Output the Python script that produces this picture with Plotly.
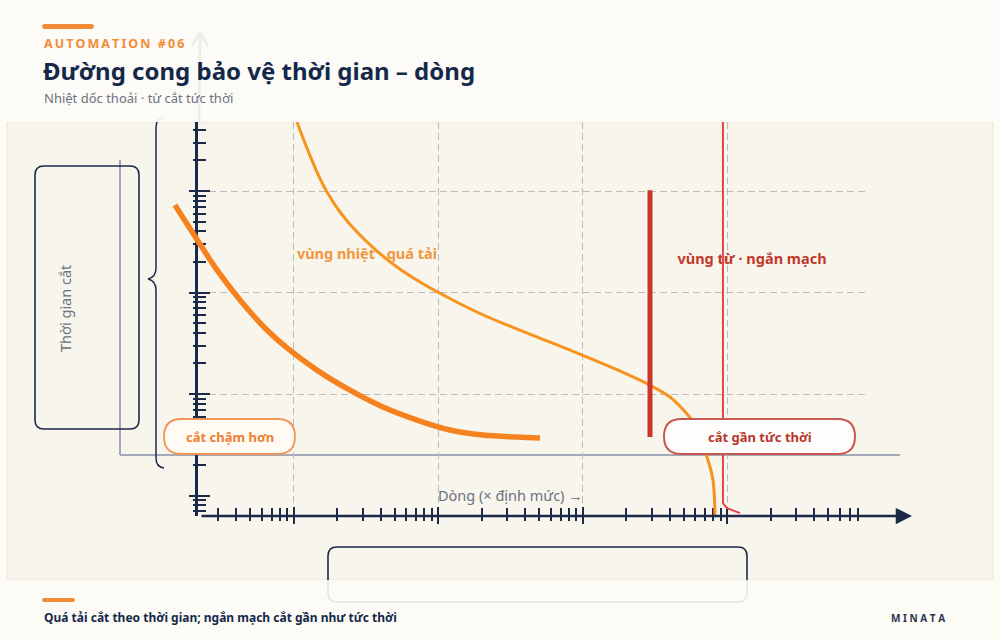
import plotly.graph_objects as go

# Time-current curves (x = multiple of rated current, y = trip time in s)
trip_current = [1.049, 1.23, 1.443, 1.692, 2.081, 2.729, 3.753, 5.163, 7.447, 11.45, 19.38, 32.78, 56.36,
                95.33, 171.9, 290.8, 400.0, 492.1, 577.0, 645.2, 721.4, 793.6, 819.3]
trip_time = [4785, 2652, 1539, 977.5, 621.2, 394.7, 256.4, 178.3, 126.9, 90.3, 62.1, 45.3, 33.3,
             24.7, 17.36, 12.21, 9.34, 7.04, 5.30, 3.52, 2.39, 1.42, 0.628]

slow_current = [0.150, 0.182, 0.213, 0.293, 0.423, 0.650, 0.895, 1.44, 2.44, 4.13, 7.10, 12.0, 20.3, 34.9, 50.4]
slow_time = [728, 473, 333, 167, 84.4, 42.7, 28.4, 17.2, 10.9, 7.44, 5.54, 4.42, 3.94, 3.77, 3.69]

magnetic_current = [291, 291]
magnetic_time = [1020, 3.77]

instant_current = [931, 931, 993, 1221]
instant_time = [5000, 0.84, 0.75, 0.67]

grid_times = [10, 100, 1000]

# region labels (placed in data space so the curves run over them)
thermal_label = ["<b>vùng nhiệt · quá tải</b>"]
thermal_label_at = ([3.20], [234])
magnetic_label = ["<b>vùng từ · ngắn mạch</b>"]
magnetic_label_at = ([1479], [209])

W, H = 1000, 640
FONT = "Noto Sans"
NAVY = "#1c2a4a"
TITLE = "#14294a"
ORANGE = "#f28c38"
RED = "#c0392b"
GRAY_TXT = "#6b7280"
PAGE = "#fdfbf6"
PANEL = "#f8f5ec"
GRID = "#bcbcbc"


def px(x):
    return x / W


def py(y):
    return 1 - y / H


def pt(x, y):
    return f"{px(x):.5f},{py(y):.5f}"


def rrect(x0, y0, x1, y1, r):
    return (f"M {pt(x0 + r, y0)} L {pt(x1 - r, y0)} Q {pt(x1, y0)} {pt(x1, y0 + r)} "
            f"L {pt(x1, y1 - r)} Q {pt(x1, y1)} {pt(x1 - r, y1)} "
            f"L {pt(x0 + r, y1)} Q {pt(x0, y1)} {pt(x0, y1 - r)} "
            f"L {pt(x0, y0 + r)} Q {pt(x0, y0)} {pt(x0 + r, y0)} Z")


XD = [0.198, 0.865]
YD = [py(516), py(122)]
X_RANGE = [-0.664, 3.952]
X4_RANGE = [-0.9965, 3.952]
Y_RANGE = [-0.202, 3.680]

fig = go.Figure()

# empty traces so the overlay axes get drawn
for xa, ya in [("x", "y"), ("x2", "y"), ("x", "y2"), ("x", "y3")]:
    fig.add_trace(go.Scatter(x=[], y=[], xaxis=xa, yaxis=ya, showlegend=False, hoverinfo="skip"))

fig.add_trace(go.Scatter(x=thermal_label_at[0], y=thermal_label_at[1], text=thermal_label, mode="text",
                         xaxis="x4", yaxis="y4", textposition="middle center",
                         textfont=dict(family=FONT, size=14.5, color="#f2963f"), showlegend=False))
fig.add_trace(go.Scatter(x=magnetic_label_at[0], y=magnetic_label_at[1], text=magnetic_label, mode="text",
                         xaxis="x4", yaxis="y4", textposition="middle center",
                         textfont=dict(family=FONT, size=14.5, color=RED), showlegend=False))

fig.add_trace(go.Scatter(x=slow_current, y=slow_time, mode="lines", xaxis="x4", yaxis="y4",
                         line=dict(color="#f5821f", width=5.5, shape="spline", smoothing=1.0),
                         showlegend=False))
fig.add_trace(go.Scatter(x=trip_current, y=trip_time, mode="lines", xaxis="x4", yaxis="y4",
                         line=dict(color="#f7931e", width=3, shape="spline", smoothing=1.0),
                         showlegend=False))
fig.add_trace(go.Scatter(x=magnetic_current, y=magnetic_time, mode="lines", xaxis="x4", yaxis="y4",
                         line=dict(color="#c9372c", width=5), showlegend=False))
fig.add_trace(go.Scatter(x=instant_current, y=instant_time, mode="lines", xaxis="x4", yaxis="y4",
                         line=dict(color="#e64545", width=2), showlegend=False))

tick_in = dict(dtick=1, ticks="inside", tickcolor=NAVY, showticklabels=False, zeroline=False)

shapes = [
    # panel
    dict(type="rect", xref="paper", yref="paper", x0=px(7), x1=px(993), y0=py(580), y1=py(122),
         fillcolor=PANEL, line=dict(color="#ebe5d8", width=1), layer="below"),
    # gray frame
    dict(type="line", xref="paper", yref="paper", x0=px(120), x1=px(120), y0=py(160), y1=py(455),
         line=dict(color="#a3a9b8", width=2), layer="below"),
    dict(type="line", xref="paper", yref="paper", x0=px(120), x1=px(900), y0=py(455), y1=py(455),
         line=dict(color="#a3a9b8", width=2), layer="below"),
    # y label box and brace
    dict(type="path", xref="paper", yref="paper", path=rrect(35, 166, 139, 429, 9),
         line=dict(color=NAVY, width=1.6), layer="below"),
    dict(type="path", xref="paper", yref="paper",
         path=(f"M {pt(163, 118)} Q {pt(156, 118)} {pt(156, 128)} L {pt(156, 268)} "
               f"Q {pt(156, 277)} {pt(148, 279)} Q {pt(156, 281)} {pt(156, 290)} "
               f"L {pt(156, 458)} Q {pt(156, 467)} {pt(164, 468)}"),
         line=dict(color=NAVY, width=1.5), layer="below"),
    # x label box
    dict(type="path", xref="paper", yref="paper", path=rrect(328, 547, 747, 602, 9),
         line=dict(color=NAVY, width=1.6), layer="above"),
    # y axis extension behind header
    dict(type="path", xref="paper", yref="paper",
         path=f"M {pt(199, 122)} L {pt(200, 34)} M {pt(192, 46)} L {pt(200, 32)} L {pt(208, 46)}",
         line=dict(color=NAVY, width=2.5), layer="above"),
    # header / footer veils
    dict(type="rect", xref="paper", yref="paper", x0=0, x1=1, y0=py(122), y1=1,
         fillcolor=PAGE, opacity=0.93, line=dict(width=0), layer="above"),
    dict(type="rect", xref="paper", yref="paper", x0=0, x1=1, y0=0, y1=py(580),
         fillcolor=PAGE, opacity=0.9, line=dict(width=0), layer="above"),
    # pills
    dict(type="path", xref="paper", yref="paper", path=rrect(164, 419, 295, 454, 17.5),
         fillcolor="#fffaf3", line=dict(color="#f0955a", width=1.8), layer="above"),
    dict(type="path", xref="paper", yref="paper", path=rrect(664, 419, 855, 454, 17.5),
         fillcolor="#fffdfb", line=dict(color="#c65a50", width=2), layer="above"),
    # accent bars
    dict(type="path", xref="paper", yref="paper", path=rrect(42, 24, 94, 29, 2.5),
         fillcolor=ORANGE, line=dict(width=0), layer="above"),
    dict(type="path", xref="paper", yref="paper", path=rrect(42, 598, 75, 602, 2),
         fillcolor=ORANGE, line=dict(width=0), layer="above"),
]

annotations = [
    dict(x=px(42), y=py(44), text="<b>" + "\u2009".join("AUTOMATION #06") + "</b>",
         font=dict(size=12.5, color=ORANGE)),
    dict(x=px(41), y=py(70), text="<b>Đường cong bảo vệ thời gian – dòng</b>",
         font=dict(size=24, color=TITLE)),
    dict(x=px(42), y=py(98), text="Nhiệt dốc thoải · từ cắt tức thời",
         font=dict(size=13, color=GRAY_TXT)),
    dict(x=px(42), y=py(617), text="<b>Quá tải cắt theo thời gian; ngắn mạch cắt gần như tức thời</b>",
         font=dict(size=12, color=TITLE)),
    dict(x=px(947), y=py(618), text="<b>M I N A T A</b>", xanchor="right",
         font=dict(size=10, color="#2b3550")),
    dict(x=px(65), y=py(309), text="Thời gian cắt", textangle=-90, xanchor="center",
         font=dict(size=14.5, color=GRAY_TXT)),
    dict(x=px(510), y=py(495), text="Dòng (× định mức) →", xanchor="center",
         font=dict(size=14.5, color=GRAY_TXT)),
    dict(x=px(230), y=py(437), text="<b>cắt chậm hơn</b>", xanchor="center",
         font=dict(size=13, color="#ec7f30")),
    dict(x=px(760), y=py(437), text="<b>cắt gần tức thời</b>", xanchor="center",
         font=dict(size=13, color="#b5372c")),
    # x axis with arrow head
    dict(x=px(912), y=py(516), ax=-(912 - 198), ay=0, text="", showarrow=True,
         arrowhead=2, arrowsize=1.3, arrowwidth=2.5, arrowcolor=NAVY),
]
for a in annotations:
    a.setdefault("xref", "paper")
    a.setdefault("yref", "paper")
    a.setdefault("xanchor", "left")
    a.setdefault("yanchor", "middle")
    a.setdefault("showarrow", False)
    a["font"] = dict(family=FONT, **a.get("font", {}))

fig.update_layout(
    width=W, height=H,
    margin=dict(l=0, r=0, t=0, b=0),
    paper_bgcolor=PAGE,
    plot_bgcolor="rgba(0,0,0,0)",
    font=dict(family=FONT),
    hovermode=False,
    showlegend=False,
    xaxis=dict(type="log", domain=XD, range=X_RANGE, anchor="y", showline=False,
               showgrid=True, gridcolor=GRID, griddash="7px,4px", gridwidth=1,
               ticklen=9, tickwidth=2.2, **tick_in,
               minor=dict(dtick="D1", ticks="inside", ticklen=8, tickwidth=1.6, tickcolor=NAVY, showgrid=False)),
    xaxis2=dict(type="log", overlaying="x", range=X_RANGE, anchor="y", side="bottom", showgrid=False,
                showline=False, dtick=1, ticks="outside", ticklen=7, tickwidth=2.2, tickcolor=NAVY,
                showticklabels=False, zeroline=False,
                minor=dict(dtick="D1", ticks="outside", ticklen=4, tickwidth=1.6, tickcolor=NAVY, showgrid=False)),
    yaxis=dict(type="log", domain=YD, range=Y_RANGE, anchor="x", showgrid=False,
               showline=True, linecolor=NAVY, linewidth=2.5,
               ticklen=12, tickwidth=2.4, **tick_in,
               minor=dict(dtick="D1", ticks="inside", ticklen=8, tickwidth=1.8, tickcolor=NAVY, showgrid=False)),
    yaxis2=dict(type="log", overlaying="y", range=Y_RANGE, anchor="x", side="left", showgrid=False,
                showline=False, dtick=1, ticks="outside", ticklen=8, tickwidth=2.4, tickcolor=NAVY,
                showticklabels=False, zeroline=False,
                minor=dict(dtick="D1", ticks="outside", ticklen=4, tickwidth=1.8, tickcolor=NAVY, showgrid=False)),
    yaxis3=dict(type="log", overlaying="y", range=Y_RANGE, anchor="x", side="left",
                tickmode="array", tickvals=grid_times, ticks="", showticklabels=False,
                showgrid=True, gridcolor=GRID, griddash="7px,4px", gridwidth=1,
                showline=False, zeroline=False),
    xaxis4=dict(type="log", domain=[0.15, 0.865], range=X4_RANGE, anchor="y4", visible=False),
    yaxis4=dict(type="log", domain=YD, range=Y_RANGE, anchor="x4", visible=False),
    shapes=shapes,
    annotations=annotations,
)

fig.write_html("out.html", config={"displayModeBar": False},
               post_script="document.body.style.margin='0';")
